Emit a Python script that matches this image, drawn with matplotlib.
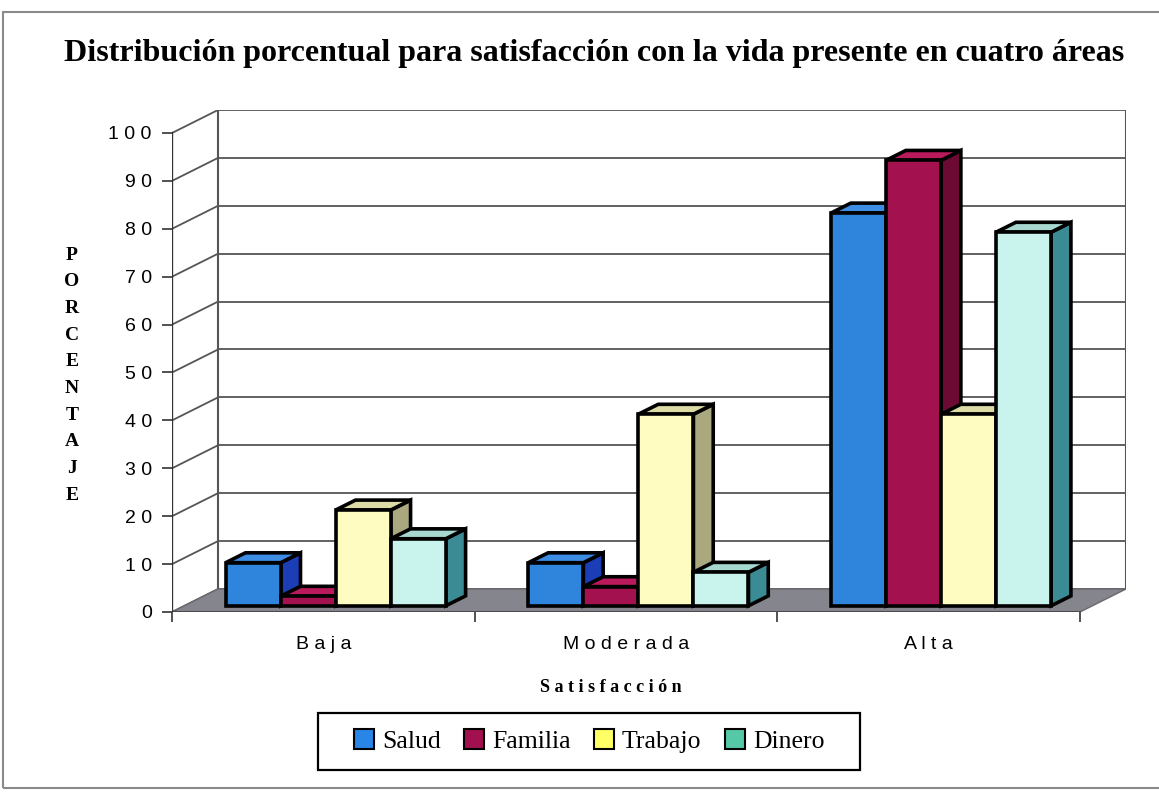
import matplotlib.pyplot as plt
from matplotlib.patches import Polygon, Rectangle, Patch

# satisfaccion con la vida presente, en porcentaje
categorias = ['Baja', 'Moderada', 'Alta']
areas = ['Salud', 'Familia', 'Trabajo', 'Dinero']
salud = [9, 9, 82]
familia = [2, 4, 93]
trabajo = [20, 40, 40]
dinero = [14, 7, 78]
yticks = list(range(0, 101, 10))

series = [salud, familia, trabajo, dinero]
# frente, tapa, lateral
caras = [('#2f84dc', '#3d8de4', '#1b3db6'),
         ('#a3124f', '#b81a5c', '#6c0a34'),
         ('#fffcc2', '#dcdba6', '#a9a87e'),
         ('#c9f4ee', '#a6d8d0', '#3b8b95')]
color_leyenda = ['#2a86e6', '#a3104f', '#ffff66', '#55c8a8']

W, H = 1159, 793
fig = plt.figure(figsize=(W / 100, H / 100), dpi=100)

# pixeles del plano frontal
px_x0, px_x3, px_y0, px_y100 = 172, 1080, 612, 133
prof_px = (46, 23)
ux = (px_x3 - px_x0) / 3
uy = (px_y0 - px_y100) / 100
DX = prof_px[0] / ux
DY = prof_px[1] / uy

ax = fig.add_axes([px_x0 / W, (H - px_y0) / H,
                   (px_x3 + prof_px[0] - px_x0) / W,
                   (px_y0 - px_y100 + prof_px[1]) / H])
ax.set_xlim(0, 3 + DX)
ax.set_ylim(0, 100 + DY)
ax.set_facecolor('none')
for s in ax.spines.values():
    s.set_visible(False)

grid_c = '#555555'
# pared del fondo y pared lateral
for v in yticks:
    ax.plot([DX, 3 + DX], [v + DY, v + DY], color=grid_c, lw=1.3, zorder=1)
    ax.plot([0, DX], [v, v + DY], color=grid_c, lw=1.3, zorder=1)
ax.plot([DX, DX], [DY, 100 + DY], color=grid_c, lw=1.5, zorder=1)
ax.plot([3 + DX, 3 + DX], [DY, 100 + DY], color=grid_c, lw=1.5, zorder=1)

# piso
piso = Polygon([(0, 0), (3, 0), (3 + DX, DY), (DX, DY)], closed=True,
               facecolor='#85858e', edgecolor='#6a6a70', lw=1, zorder=2)
ax.add_patch(piso)
ax.plot([0, 3], [0, 0], color='#4a4a4a', lw=1.5, zorder=2)
ax.plot([0, 0], [0, 100], color='#333333', lw=1.7, zorder=3)

# barras 3d
w = 1 / 5.5
f0, f1 = 0.27, 0.70
ox, oy = f0 * DX, f0 * DY
bx, by = f1 * DX, f1 * DY
z = 5
for i in range(len(categorias)):
    for j, vals in enumerate(series):
        v = vals[i]
        xl = i + 0.75 * w + j * w
        fr, tp, sd = caras[j]
        kw = dict(closed=True, edgecolor='black', lw=2.6, joinstyle='miter')
        ax.add_patch(Polygon([(xl + w + ox, oy), (xl + w + bx, by),
                              (xl + w + bx, by + v), (xl + w + ox, oy + v)],
                             facecolor=sd, zorder=z, **kw))
        ax.add_patch(Polygon([(xl + ox, oy + v), (xl + w + ox, oy + v),
                              (xl + w + bx, by + v), (xl + bx, by + v)],
                             facecolor=tp, zorder=z, **kw))
        ax.add_patch(Polygon([(xl + ox, oy), (xl + w + ox, oy),
                              (xl + w + ox, oy + v), (xl + ox, oy + v)],
                             facecolor=fr, zorder=z + 1, **kw))
        z += 2

sans = 'Liberation Sans'
serif = 'Liberation Serif'

ax.set_yticks(yticks)
ax.set_yticklabels([' '.join(str(t)) for t in yticks], fontsize=14,
                   family=sans)
ax.tick_params(axis='y', length=7.5, width=1.2, color='#333333', pad=7)

ax.set_xticks([0, 1, 2, 3])
ax.set_xticklabels([])
ax.tick_params(axis='x', which='major', length=7.5, width=1.2, color='#333333')
ax.set_xticks([0.5, 1.5, 2.5], minor=True)
ax.set_xticklabels([' '.join(c) for c in categorias], minor=True,
                   fontsize=14, family=sans)
ax.tick_params(axis='x', which='minor', length=0, pad=17)

# textos
fig.text(594 / W, 1 - 53 / H,
         'Distribución porcentual para satisfacción con la vida presente en cuatro áreas',
         ha='center', va='center', fontsize=23, weight='bold', family=serif)
fig.text(611 / W, 1 - 688 / H, ' '.join('Satisfacción'), ha='center',
         va='center', fontsize=13, weight='bold', family=serif)
for k, letra in enumerate('PORCENTAJE'):
    fig.text(72 / W, 1 - (255 + k * 26.7) / H, letra, ha='center',
             va='center', fontsize=14, weight='bold', family=serif)

# leyenda
fig.patches.append(Rectangle((318 / W, 1 - 770 / H), (860 - 318) / W,
                             (770 - 713) / H, transform=fig.transFigure,
                             facecolor='white', edgecolor='black', lw=1.6))
handles = [Patch(facecolor=c, edgecolor='black', lw=1.5) for c in color_leyenda]
fig.legend(handles, areas, loc='center', bbox_to_anchor=(589 / W, 1 - 741 / H),
           ncol=4, frameon=False, prop={'family': serif, 'size': 18.5},
           handlelength=0.8, handleheight=0.8, handletextpad=0.3,
           columnspacing=0.9, borderaxespad=0)

# marco del grafico
fig.patches.append(Rectangle((3 / W, 1 - 788 / H), (1170 - 3) / W,
                             (788 - 12) / H, transform=fig.transFigure,
                             facecolor='none', edgecolor='#8a8a8a', lw=1.5,
                             zorder=0))

fig.savefig('out.png', dpi=100)
